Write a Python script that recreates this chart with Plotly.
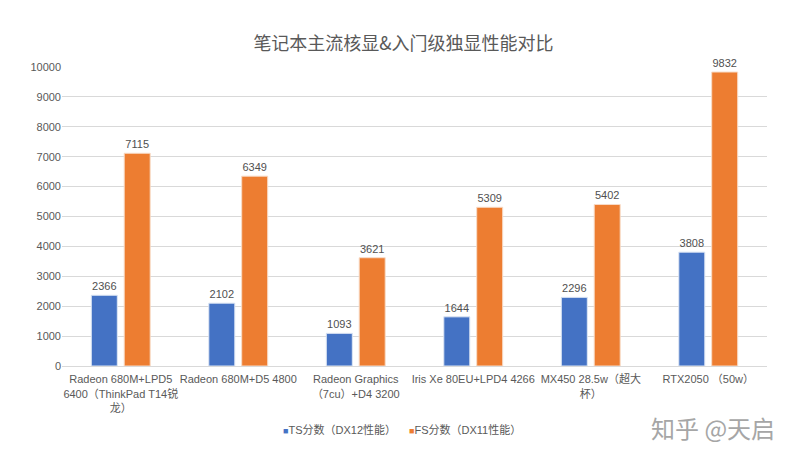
import plotly.graph_objects as go

# categories and scores
categories = [
    "Radeon 680M+LPD5<br>6400（ThinkPad T14锐<br>龙）",
    "Radeon 680M+D5 4800",
    "Radeon Graphics<br>（7cu）+D4 3200",
    "Iris Xe 80EU+LPD4 4266",
    "MX450 28.5w（超大<br>杯）",
    "RTX2050 （50w）",
]
ts_scores = [2366, 2102, 1093, 1644, 2296, 3808]
fs_scores = [7115, 6349, 3621, 5309, 5402, 9832]
y_ticks = list(range(0, 10001, 1000))

series_names = ["TS分数（DX12性能）", "FS分数（DX11性能）"]
series_colors = ["#4472C4", "#ED7D31"]

font_family = "Liberation Sans, Noto Sans CJK SC, sans-serif"

fig = go.Figure()

for name, values, color, edge in zip(series_names, [ts_scores, fs_scores],
                                     series_colors, ["#DDE6F4", "#F8DCC8"]):
    fig.add_trace(go.Bar(
        x=categories,
        y=values,
        name=name,
        marker=dict(color=color, line=dict(color=edge, width=1)),
        text=values,
        textposition="outside",
        textfont=dict(size=11, color="#505050"),
        cliponaxis=False,
    ))

# Excel-style compact legend: small square + label
legend_notes = [
    dict(
        text=f"<span style='color:{c}; font-size:9px'>■</span>{n}",
        xref="paper", yref="paper",
        x=px, y=-0.214,
        xanchor="left", yanchor="middle",
        showarrow=False,
        font=dict(size=11, color="#595959"),
    )
    for n, c, px in zip(series_names, series_colors, [0.311, 0.489])
]

# page has an 8px body margin, so the figure is sized to fit the window
fig.update_layout(
    width=791,
    height=452,
    barmode="group",
    bargap=0.44,
    bargroupgap=0.21,
    showlegend=False,
    paper_bgcolor="white",
    plot_bgcolor="white",
    font=dict(family=font_family, size=11, color="#595959"),
    title=dict(
        text="笔记本主流核显&入门级独显性能对比",
        x=0.5,
        xanchor="center",
        y=0.92,
        yanchor="middle",
        font=dict(size=18, color="#595959", family="Noto Sans CJK SC, sans-serif"),
    ),
    margin=dict(t=59, b=94, l=54, r=32),
    xaxis=dict(
        showgrid=False,
        showline=True,
        linecolor="#D9D9D9",
        linewidth=1,
        tickangle=0,
        automargin=False,
        ticklabelstandoff=3,
        tickfont=dict(size=11, color="#595959"),
        ticks="",
    ),
    yaxis=dict(
        range=[0, 10000],
        tickvals=y_ticks,
        ticktext=[str(v) for v in y_ticks],
        automargin=False,
        showgrid=True,
        gridcolor="#D9D9D9",
        gridwidth=1,
        zeroline=False,
        tickfont=dict(size=11, color="#595959"),
        ticks="",
        ticklen=0,
    ),
    annotations=legend_notes + [
        dict(
            text="知乎 @天启",
            xref="paper",
            yref="paper",
            x=1.014,
            y=-0.207,
            xanchor="right",
            yanchor="middle",
            showarrow=False,
            font=dict(size=24, color="#A6A6A6", family="Noto Sans CJK SC, sans-serif"),
        )
    ],
)

fig.write_html("out.html")
